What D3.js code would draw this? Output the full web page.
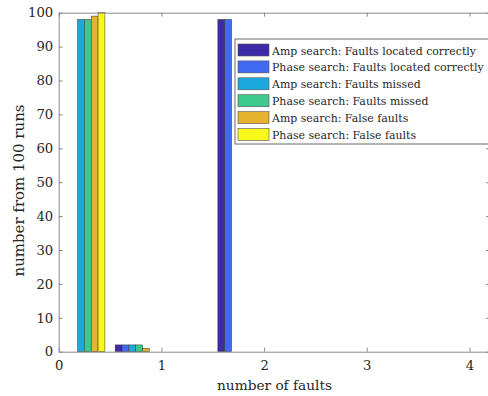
<!DOCTYPE html>
<html>
<head>
<meta charset="utf-8">
<script src="https://cdn.jsdelivr.net/npm/d3@7"></script>
<style>
  body { margin: 0; background: #fff; }
  svg { display: block; }
  svg text { font-family: "DejaVu Serif", serif; }
</style>
</head>
<body>
<div class="chart"></div>
<script>
// group positions on the x axis
var groupX = [0.25, 0.75, 1.25, 1.75];

// one array per bar series
var ampCorrect   = [0, 2, 0, 98];
var phaseCorrect = [0, 2, 0, 98];
var ampMissed    = [98, 2, 0, 0];
var phaseMissed  = [98, 2, 0, 0];
var ampFalse     = [99, 1, 0, 0];
var phaseFalse   = [100, 0, 0, 0];

var seriesNames = [
  "Amp search: Faults located correctly",
  "Phase search: Faults located correctly",
  "Amp search: Faults missed",
  "Phase search: Faults missed",
  "Amp search: False faults",
  "Phase search: False faults"
];
var seriesColors = ["#3d2aa6", "#4169f2", "#1ba8dc", "#3ec98c", "#e6b32f", "#f8f81c"];

var xTicks = [0, 1, 2, 3, 4];
var yTicks = [0, 10, 20, 30, 40, 50, 60, 70, 80, 90, 100];

var allSeries = [ampCorrect, phaseCorrect, ampMissed, phaseMissed, ampFalse, phaseFalse];

var svgWidth = 488, svgHeight = 396;
var plot = { left: 58.7, right: 490, top: 12.7, bottom: 351.7 };

var svg = d3.select(".chart").append("svg")
  .attr("width", svgWidth)
  .attr("height", svgHeight);

var x = d3.scaleLinear().domain([0, 4.2]).range([plot.left, plot.right]);
var y = d3.scaleLinear().domain([0, 100]).range([plot.bottom, plot.top]);

// no Times here, so shrink the serif font until it is as wide as the original text
function fitWidth(sel, target) {
  var fs = +sel.attr("font-size");
  var w = sel.node().getComputedTextLength();
  if (w > 0) sel.attr("font-size", fs * target / w);
  return sel;
}

// bar geometry like matlab grouped bars
var groupWidth = 0.4;
var barW = groupWidth / allSeries.length;

allSeries.forEach(function(vals, i) {
  svg.append("g").selectAll("rect")
    .data(vals)
    .enter()
    .append("rect")
    .attr("x", (d, j) => x(groupX[j] - groupWidth / 2 + i * barW))
    .attr("width", x(barW) - x(0))
    .attr("y", d => y(d))
    .attr("height", d => y(0) - y(d))
    .attr("fill", seriesColors[i])
    .attr("stroke", "#333")
    .attr("stroke-width", 0.5);
});

// axes, ticks pointing inward
var axisColor = "#8a8a8a";
var textColor = "#262626";

var bottomAxis = d3.axisBottom(x).tickValues(xTicks).tickFormat(d3.format("d"))
  .tickSizeInner(-4).tickSizeOuter(0).tickPadding(9);
var topAxis = d3.axisTop(x).tickValues(xTicks).tickFormat("")
  .tickSizeInner(-4).tickSizeOuter(0);
var leftAxis = d3.axisLeft(y).tickValues(yTicks).tickFormat(d3.format("d"))
  .tickSizeInner(-4).tickSizeOuter(0).tickPadding(5.5);
var rightAxis = d3.axisRight(y).tickValues(yTicks).tickFormat("")
  .tickSizeInner(-4).tickSizeOuter(0);

function styleAxis(g) {
  g.attr("font-family", null);
  g.selectAll("path, line").attr("stroke", axisColor);
  g.selectAll("text").attr("fill", textColor).attr("font-size", 13.2);
}

svg.append("g").attr("transform", `translate(0,${plot.bottom})`).call(bottomAxis).call(styleAxis);
svg.append("g").attr("transform", `translate(0,${plot.top})`).call(topAxis).call(styleAxis);
svg.append("g").attr("transform", `translate(${plot.left},0)`).call(leftAxis).call(styleAxis);
svg.append("g").attr("transform", `translate(${plot.right},0)`).call(rightAxis).call(styleAxis);

// axis labels
svg.append("text")
  .attr("x", 274.5)
  .attr("y", 390)
  .attr("text-anchor", "middle")
  .attr("font-size", 16)
  .attr("fill", textColor)
  .text("number of faults")
  .call(fitWidth, 115);

svg.append("text")
  .attr("transform", "translate(24,190.5) rotate(-90)")
  .attr("text-anchor", "middle")
  .attr("font-size", 16)
  .attr("fill", textColor)
  .text("number from 100 runs")
  .call(fitWidth, 172);

// legend
var legend = svg.append("g").attr("transform", "translate(235,39)");
legend.append("rect")
  .attr("width", 270).attr("height", 105)
  .attr("fill", "#fff").attr("stroke", "#444").attr("stroke-width", 0.8);

var legendTexts = [];
seriesNames.forEach(function(name, i) {
  var cy = 11 + i * 16.9;
  legend.append("rect")
    .attr("x", 3).attr("y", cy - 6)
    .attr("width", 31).attr("height", 12)
    .attr("fill", seriesColors[i])
    .attr("stroke", "#555").attr("stroke-width", 0.6);
  legendTexts.push(legend.append("text")
    .attr("x", 37).attr("y", cy + 4.5)
    .attr("font-size", 14)
    .attr("fill", textColor)
    .text(name));
});
// longest entry has to fit before the right edge, the rest use its size
fitWidth(legendTexts[1], 212);
legendTexts.forEach(t => t.attr("font-size", legendTexts[1].attr("font-size")));
</script>
</body>
</html>
